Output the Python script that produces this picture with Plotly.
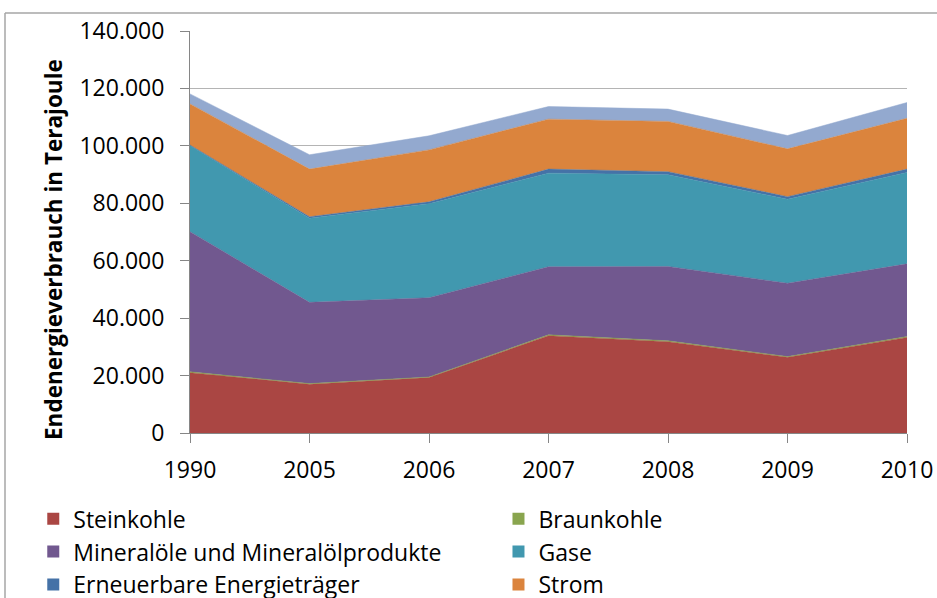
import plotly.graph_objects as go

years = ["1990", "2005", "2006", "2007", "2008", "2009", "2010"]
steinkohle = [21000, 17000, 19300, 33900, 31800, 26400, 33300]
braunkohle = [300, 200, 200, 300, 300, 200, 300]
mineraloele = [48800, 28300, 27600, 23700, 25900, 25550, 25300]
gase = [30000, 29300, 32700, 32600, 31900, 29250, 31800]
erneuerbare = [200, 500, 700, 1400, 1100, 900, 1200]
strom = [14300, 16600, 18100, 17400, 17500, 16650, 17700]
fernwaerme = [3500, 5000, 4900, 4400, 4300, 4650, 5500]

series = [
    ("Steinkohle", steinkohle, "#AA4643", "legend"),
    ("Braunkohle", braunkohle, "#89A54E", "legend2"),
    ("Mineralöle und Mineralölprodukte", mineraloele, "#71588F", "legend"),
    ("Gase", gase, "#4198AF", "legend2"),
    ("Erneuerbare Energieträger", erneuerbare, "#4572A7", "legend"),
    ("Strom", strom, "#DB843D", "legend2"),
    ("Fernwärme", fernwaerme, "#93A9CF", "legend"),
]

FONT = "Open Sans, DejaVu Sans, sans-serif"

W, H = 937, 598
L, T, R, B = 190, 31, 30, 165
PW, PH = W - L - R, H - T - B

fig = go.Figure()
for name, vals, col, _ in series:
    fig.add_trace(go.Scatter(
        x=years, y=vals, name=name, stackgroup="one", mode="lines",
        line=dict(width=0.5, color=col), fillcolor=col, showlegend=False,
        hoverinfo="x+y+name",
    ))
for i, (name, vals, col, lg) in enumerate(series):
    fig.add_trace(go.Scatter(
        x=[years[0]], y=[None], name=name, mode="markers",
        marker=dict(symbol="square", size=12, color=col),
        legend=lg, legendgroup="g%d" % i, showlegend=True, hoverinfo="skip",
    ))

def px(x):
    return (x - L) / PW

def py(y):
    return (H - B - y) / PH

fig.update_layout(
    width=W, height=H,
    margin=dict(l=L, r=R, t=T, b=B, autoexpand=False),
    paper_bgcolor="white", plot_bgcolor="white",
    separators=",.",
    font=dict(family=FONT, size=23, color="black"),
    xaxis=dict(
        type="category", categoryorder="array", categoryarray=years,
        range=[0, 6], autorange=False, showgrid=False,
        showline=True, linecolor="#868686", linewidth=1,
        ticks="outside", ticklen=9, tickcolor="#868686", tickangle=0,
        tickfont=dict(size=23), fixedrange=True, automargin=False,
        ticklabelstandoff=7,
    ),
    yaxis=dict(
        range=[0, 140000], autorange=False, dtick=20000, tickformat=",d",
        showgrid=True, gridcolor="#B4B4B4", gridwidth=1,
        showline=True, linecolor="#868686", linewidth=1,
        ticks="outside", ticklen=9, tickcolor="#868686",
        tickfont=dict(size=23), zeroline=False, automargin=False,
        ticklabelstandoff=11,
    ),
    annotations=[
        dict(text="<b>Endenergieverbrauch in Terajoule</b>",
             xref="paper", yref="paper", x=px(53), y=py(250),
             xanchor="center", yanchor="middle", textangle=-90,
             showarrow=False, font=dict(size=22.5, color="black")),
    ],
    legend=dict(
        xref="container", yref="container", x=0.0355, y=0.1686,
        xanchor="left", yanchor="top", orientation="v",
        font=dict(size=23), tracegroupgap=0, bgcolor="rgba(0,0,0,0)",
    ),
    legend2=dict(
        xref="container", yref="container", x=0.5320, y=0.1686,
        xanchor="left", yanchor="top", orientation="v",
        font=dict(size=23), tracegroupgap=0, bgcolor="rgba(0,0,0,0)",
    ),
    shapes=[
        dict(type="line", xref="paper", yref="paper",
             x0=px(5), x1=px(960), y0=py(13), y1=py(13),
             line=dict(color="#A6A6A6", width=1.5)),
        dict(type="line", xref="paper", yref="paper",
             x0=px(5), x1=px(5), y0=py(13), y1=py(640),
             line=dict(color="#A6A6A6", width=1.5)),
    ],
)

fig.write_html(
    "out.html",
    config={"displayModeBar": False},
    post_script="document.body.style.margin='0';document.body.style.overflow='hidden';",
)
